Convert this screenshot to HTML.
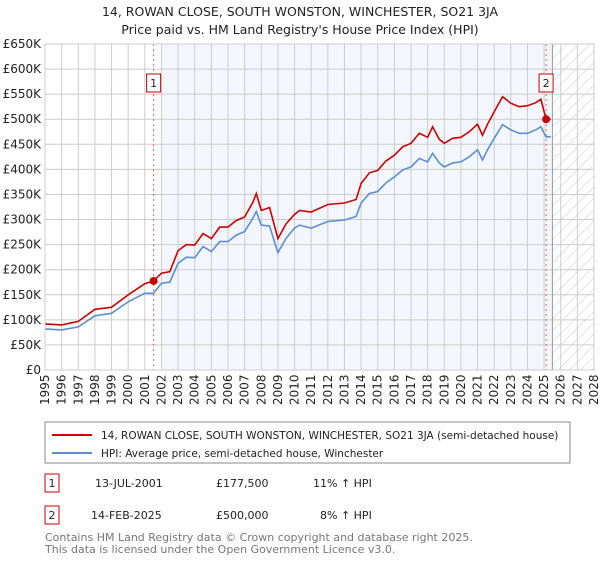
<!DOCTYPE html>
<html><head><meta charset="utf-8"><style>
body{margin:0;background:#fff;font-family:"Liberation Sans","DejaVu Sans",sans-serif}
svg text{font-family:"DejaVu Sans","Liberation Sans",sans-serif}
</style></head><body>
<svg id="c" width="600" height="560" xmlns="http://www.w3.org/2000/svg">
<defs><pattern id="hatch" width="8" height="8" patternUnits="userSpaceOnUse" patternTransform="rotate(45)"><line x1="0" y1="0" x2="0" y2="8" stroke="#ccc" stroke-width="1"/></pattern></defs>
<text x="300" y="16" text-anchor="middle" font-size="12.5" fill="#222">14, ROWAN CLOSE, SOUTH WONSTON, WINCHESTER, SO21 3JA</text>
<text x="300" y="34" text-anchor="middle" font-size="12.5" fill="#222">Price paid vs. HM Land Registry's House Price Index (HPI)</text>
<g id="plot"></g>
<rect x="45" y="422" width="525" height="41" fill="#fff" stroke="#888"/>
<line x1="52" y1="435" x2="92" y2="435" stroke="#cc0000" stroke-width="2"/>
<text x="101" y="439" font-size="10.5" fill="#222">14, ROWAN CLOSE, SOUTH WONSTON, WINCHESTER, SO21 3JA (semi-detached house)</text>
<line x1="52" y1="453" x2="92" y2="453" stroke="#5b8fd4" stroke-width="2"/>
<text x="101" y="457" font-size="10.5" fill="#222">HPI: Average price, semi-detached house, Winchester</text>
<g font-size="11" fill="#222">
<rect x="45" y="474" width="14" height="18" fill="#fff" stroke="#cc0000"/><text x="52" y="487" text-anchor="middle">1</text>
<text x="95" y="487">13-JUL-2001</text><text x="216" y="487">£177,500</text><text x="313" y="487">11% ↑ HPI</text></g>
<g font-size="11" fill="#222">
<rect x="45" y="506" width="14" height="18" fill="#fff" stroke="#cc0000"/><text x="52" y="519" text-anchor="middle">2</text>
<text x="91" y="519">14-FEB-2025</text><text x="216" y="519">£500,000</text><text x="320" y="519">8% ↑ HPI</text></g>
<text x="45" y="541" font-size="11" fill="#777">Contains HM Land Registry data © Crown copyright and database right 2025.</text>
<text x="45" y="553" font-size="11" fill="#777">This data is licensed under the Open Government Licence v3.0.</text>
</svg>
<script>
const years=[1995,1996,1997,1998,1999,2000,2001,2001.53,2002,2002.5,2003,2003.5,2004,2004.5,2005,2005.5,2006,2006.5,2007,2007.5,2007.7,2008,2008.5,2009,2009.5,2010,2010.3,2011,2012,2013,2013.7,2014,2014.5,2015,2015.5,2016,2016.5,2017,2017.5,2018,2018.3,2018.7,2019,2019.5,2020,2020.5,2021,2021.3,2021.6,2022,2022.5,2023,2023.5,2024,2024.5,2024.8,2025.12,2025.4];
const hpiValues=[82,80,86,108,113,136,153,153,173,175,213,225,224,246,236,256,256,269,276,303,316,289,287,234,263,283,289,283,296,299,306,333,352,356,373,385,399,405,422,415,432,413,405,413,415,425,439,419,439,462,489,479,472,472,479,485,465,465];
const priceValues=[92,90,97,121,125,150,172,177.5,193,196,238,250,249,272,262,285,285,298,305,335,352,318,324,262,292,310,318,315,330,333,340,372,393,398,417,428,445,452,472,464,485,460,452,462,464,475,490,468,490,515,545,532,525,527,533,540,500,500];
const saleYears=[2001.53,2025.12];
const salePrices=[177.5,500];
const yTicks=[0,50,100,150,200,250,300,350,400,450,500,550,600,650];
const xTicks=[1995,1996,1997,1998,1999,2000,2001,2002,2003,2004,2005,2006,2007,2008,2009,2010,2011,2012,2013,2014,2015,2016,2017,2018,2019,2020,2021,2022,2023,2024,2025,2026,2027,2028];
const X0=45,X1=594,Y0=370,Y1=44;
const xs=v=>X0+(v-1995)/(2028-1995)*(X1-X0);
const ys=v=>Y0-v/650*(Y0-Y1);
const NS='http://www.w3.org/2000/svg';
const g=document.getElementById('plot');
function mk(t,a){const e=document.createElementNS(NS,t);for(const k in a)e.setAttribute(k,a[k]);g.appendChild(e);return e;}
let e=mk('rect',{x:xs(2002),y:Y1,width:xs(2025.5)-xs(2002),height:Y0-Y1,fill:'#f3f6fd'});


e=mk('rect',{x:xs(2025.5),y:Y1,width:X1-xs(2025.5),height:Y0-Y1,fill:'url(#hatch)'});


yTicks.forEach(v=>{
 mk('line',{x1:X0,x2:X1,y1:ys(v),y2:ys(v),stroke:'#ccc','stroke-width':1});
 const t=mk('text',{x:X0-4,y:ys(v)+4,'text-anchor':'end','font-size':'12',fill:'#222'});
 t.textContent=v===0?'£0':'£'+v+'K';
 
 
});
xTicks.forEach(v=>{
 mk('line',{x1:xs(v),x2:xs(v),y1:Y1,y2:Y0,stroke:'#ccc','stroke-width':1});
 const t=mk('text',{x:0,y:0,transform:`translate(${xs(v)+4},405) rotate(-90)`,'font-size':'12',fill:'#222'});
 t.textContent=v;
 
 
});
mk('line',{x1:xs(2025.5),x2:xs(2025.5),y1:Y1,y2:Y0,stroke:'#999','stroke-width':1});
saleYears.forEach((y,i)=>{
 const l=mk('line',{x1:xs(y),x2:xs(y),y1:Y1,y2:Y0,stroke:'#e06060','stroke-width':1,'stroke-dasharray':'2,3'});
 
 
 const r=mk('rect',{x:xs(y)-7,y:74,width:14,height:18,fill:'#fff',stroke:'#cc0000'});
 
 
 const t=mk('text',{x:xs(y),y:87,'text-anchor':'middle','font-size':'11',fill:'#222'});
 t.textContent=String(i+1);
 
 
});
const pts=vals=>years.map((y,i)=>xs(y).toFixed(1)+','+ys(vals[i]).toFixed(1)).join(' ');
e=mk('polyline',{points:pts(hpiValues),fill:'none',stroke:'#5b8fd4','stroke-width':1.6});


e=mk('polyline',{points:pts(priceValues),fill:'none',stroke:'#cc0000','stroke-width':1.6});


saleYears.forEach((y,i)=>{
 const c=mk('circle',{cx:xs(y),cy:ys(salePrices[i]),r:4,fill:'#cc0000'});
 
 
});
e=mk('rect',{x:X0,y:Y1,width:X1-X0,height:Y0-Y1,fill:'none',stroke:'#ccc'});


</script>
</body></html>
